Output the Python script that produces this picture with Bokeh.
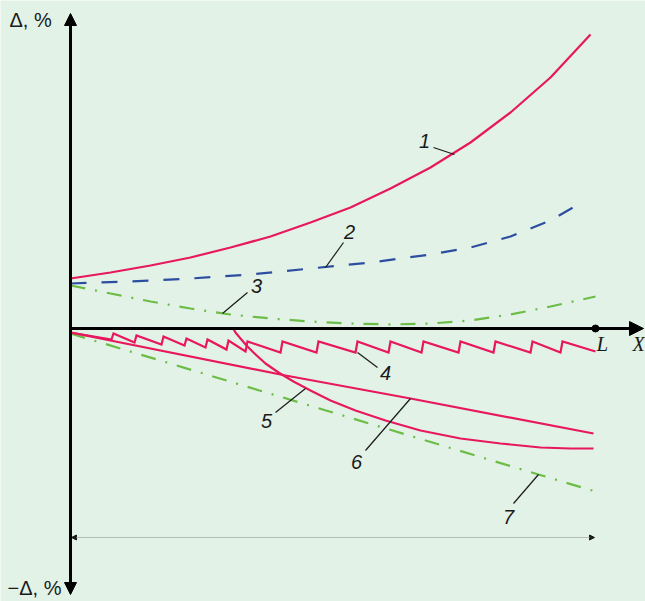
import re
from bokeh.plotting import figure
from bokeh.models import Range1d, Arrow, NormalHead, Label
from bokeh.core.properties import value
from bokeh.embed import file_html
from bokeh.resources import INLINE

# ---- data (x along the workpiece, 0..L ; y = deviation Δ, arbitrary units) ----
L = 525
c1_x = [0, 40, 80, 120, 160, 200, 240, 280, 320, 360, 400, 440, 480, 520]
c1_y = [50, 56, 63, 71, 81, 92, 106, 121, 140, 161, 186, 216, 251, 294]

c2_x = [0, 60, 120, 180, 240, 300, 360, 400, 440, 480, 513]
c2_y = [45, 47, 50, 54, 60, 66, 74, 81, 92, 108, 127]

c3_x = [0, 40, 80, 120, 160, 200, 240, 280, 320, 360, 400, 440, 480, 525]
c3_y = [43, 35, 27, 20, 14, 10, 7, 5, 4, 5, 8, 14, 22, 32]

c4_x = [0, 41, 43, 64, 66, 91, 93, 114, 116, 135, 137, 156, 158, 175, 177,
        210, 212, 246, 248, 285, 287, 318, 320, 351, 353, 388, 390, 423, 425,
        460, 462, 490, 492, 525]
c4_y = [-4, -11, -5, -14, -7, -16, -8, -17, -10, -19, -11, -21, -12, -23, -13,
        -24, -13, -24, -13, -24, -13, -24, -13, -24, -13, -24, -13, -24, -13,
        -24, -13, -24, -13, -23]

c5_x = [162, 165, 170, 176, 184, 195, 208, 223, 240, 260, 285, 315, 350, 390,
        430, 470, 500, 523]
c5_y = [1, -4, -10, -17, -25, -35, -44, -53, -62, -72, -82, -92, -102, -110,
        -115, -119, -120, -120]

c6_x = [0, 215, 340, 523]
c6_y = [-4, -47, -70, -105]

c7_x = [0, 468, 525]
c7_y = [-5, -146, -163]

curve_labels = ["1", "2", "3", "4", "5", "6", "7"]
label_x = [354, 279, 186, 315, 196, 286, 438]
label_y = [188, 97, 43, -44, -92, -133, -188]
leader_x0 = [363, 273, 177, 287, 205, 295, 443]
leader_y0 = [181, 86, 36, -24, -84, -122, -175]
leader_x1 = [384, 255, 152, 307, 235, 340, 468]
leader_y1 = [174, 61, 15, -39, -60, -70, -146]

y_top_label = "Δ, %"
y_bottom_label = "−Δ, %"
x_label = "X"
l_label = "L"

# ---- style ----
BG = "#e2f2e7"
RED = "#e8185e"
BLUE = "#2d4ea0"
GREEN = "#6cbd45"
INK = "#1a1a1a"

p = figure(width=645, height=601, x_range=Range1d(-70, 575), y_range=Range1d(-273, 328),
           min_border=0, toolbar_location=None, output_backend="svg",
           x_axis_location=None, y_axis_location=None)
p.grid.visible = False
p.outline_line_color = None
p.background_fill_color = BG
p.border_fill_color = BG

# dimension line
p.add_layout(Arrow(start=NormalHead(size=5, fill_color=INK, line_color=INK),
                   end=NormalHead(size=5, fill_color=INK, line_color=INK),
                   x_start=1, y_start=-209, x_end=L - 1, y_end=-209,
                   line_color="#b4bcb6", line_width=1))

# curves
p.line(c7_x, c7_y, line_color=GREEN, line_width=2.2, line_dash="15 10 2 10")
p.line(c3_x, c3_y, line_color=GREEN, line_width=2.2, line_dash="15 10 2 10")
p.line(c2_x, c2_y, line_color=BLUE, line_width=2.2, line_dash="16 15")
p.line(c1_x, c1_y, line_color=RED, line_width=2.2)
p.line(c6_x, c6_y, line_color=RED, line_width=2.2)
p.line(c5_x, c5_y, line_color=RED, line_width=2.2)
p.line(c4_x, c4_y, line_color=RED, line_width=2.2, line_join="miter")

# axes
p.add_layout(Arrow(start=NormalHead(size=12, fill_color="black", line_color="black"),
                   end=NormalHead(size=12, fill_color="black", line_color="black"),
                   x_start=0, y_start=-266, x_end=0, y_end=315,
                   line_color="black", line_width=3))
p.add_layout(Arrow(end=NormalHead(size=14, fill_color="black", line_color="black"),
                   x_start=0, y_start=0, x_end=573, y_end=0,
                   line_color="black", line_width=3))
p.scatter([L], [0], size=7, color="black")

# leaders and labels
p.segment(leader_x0, leader_y0, leader_x1, leader_y1, line_color=INK, line_width=1.2)
p.text(label_x, label_y, text=curve_labels, text_font=value("Liberation Sans"),
       text_font_style="italic", text_font_size="20px", text_align="center",
       text_baseline="middle", text_color=INK)

p.add_layout(Label(x=-61, y=309, text=y_top_label, text_font="Liberation Sans",
                   text_font_size="20px", text_baseline="middle", text_color=INK))
p.add_layout(Label(x=-63, y=-259, text=y_bottom_label, text_font="Liberation Sans",
                   text_font_size="20px", text_baseline="middle", text_color=INK))
p.add_layout(Label(x=L + 1, y=-15, text=l_label, text_font="Liberation Serif",
                   text_font_style="italic", text_font_size="21px",
                   text_baseline="middle", text_color=INK))
p.add_layout(Label(x=562, y=-15, text=x_label, text_font="Liberation Serif",
                   text_font_style="italic", text_font_size="20px",
                   text_baseline="middle", text_color=INK))

html = file_html(p, INLINE)
html = re.sub(r"<body([^>]*)>", r'<body\1 style="margin:0;background-color:%s;">' % BG, html, count=1)
open("out.html", "w").write(html)
